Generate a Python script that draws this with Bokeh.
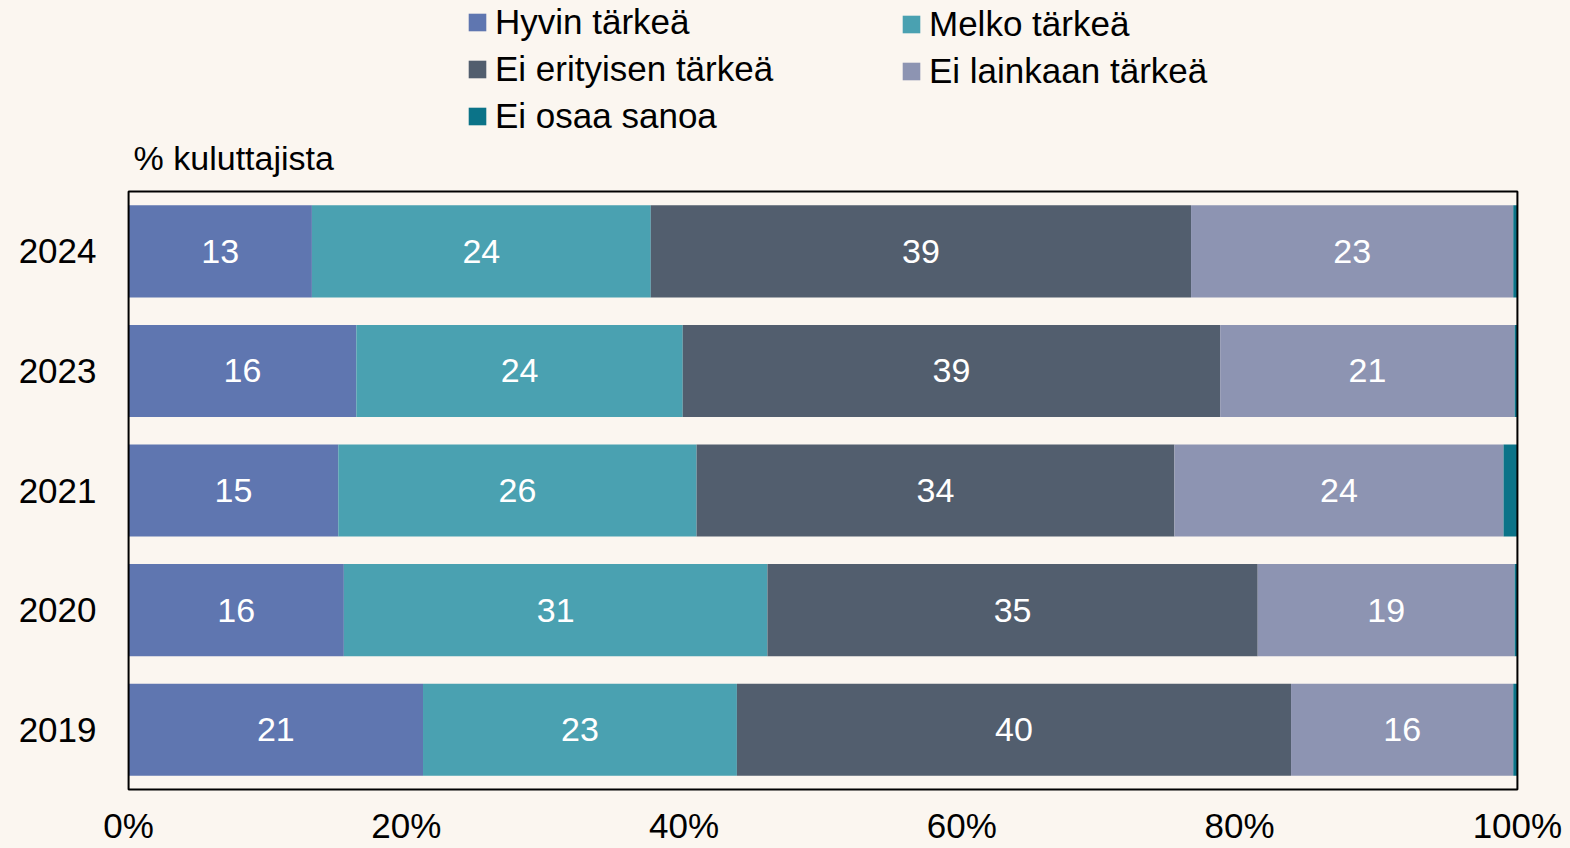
from bokeh.plotting import figure
from bokeh.models import (ColumnDataSource, Range1d, Legend, LegendItem, FixedTicker, Label)
from bokeh.core.properties import value
from bokeh.embed import file_html
from bokeh.resources import INLINE

years = ["2019", "2020", "2021", "2023", "2024"]
categories = ["Hyvin tärkeä", "Melko tärkeä", "Ei erityisen tärkeä",
              "Ei lainkaan tärkeä", "Ei osaa sanoa"]
hyvin = [21.2, 15.5, 15.1, 16.4, 13.2]
melko = [22.6, 30.5, 25.8, 23.5, 24.4]
ei_erityisen = [39.9, 35.3, 34.4, 38.7, 38.9]
ei_lainkaan = [16.0, 18.5, 23.7, 21.2, 23.2]
ei_osaa = [0.3, 0.2, 1.0, 0.2, 0.3]
tick_values = [0, 20, 40, 60, 80, 100]
tick_labels = ["0%", "20%", "40%", "60%", "80%", "100%"]
axis_title = "% kuluttajista"

colors = ["#5F76B0", "#4AA1B1", "#525E6E", "#8D94B2", "#0B7388"]
BG = "#FBF6F0"
FONT = "Liberation Sans"
FS = "34px"
FS_AX = "35px"

n = len(years)
ypos = [i + 0.5 for i in range(n)]          # row centres on the y scale
series = [hyvin, melko, ei_erityisen, ei_lainkaan, ei_osaa]
keys = ["s0", "s1", "s2", "s3", "s4"]
data = {"y": ypos}
for k, s in zip(keys, series):
    data[k] = s
source = ColumnDataSource(data)

# y range extends above the boxed area to leave room for legend and caption
p = figure(width=1570, height=848,
           x_range=Range1d(-0.15, 100.15), y_range=Range1d(-0.0167, n * 1.3195),
           output_backend="svg", toolbar_location=None,
           min_border_left=126, min_border_right=51, min_border_top=0,
           min_border_bottom=57)
p.background_fill_color = BG
p.border_fill_color = BG
p.outline_line_color = None
p.grid.visible = False

renderers = p.hbar_stack(keys, y="y", height=0.77, color=colors, source=source,
                         line_width=0)

# boxed plot area
p.quad(left=[tick_values[0]], right=[tick_values[-1]], bottom=[0], top=[n],
       fill_color=None, line_color="black", line_width=2)

# value labels inside the bars
lx, ly, lt = [], [], []
for i, y in enumerate(ypos):
    cum = 0.0
    for s in series:
        v = s[i]
        if v >= 5:
            lx.append(cum + v / 2)
            ly.append(y)
            lt.append(str(int(v + 0.5)))
        cum += v
lab_src = ColumnDataSource(dict(x=lx, y=ly, text=lt))
p.text(x="x", y="y", text="text", source=lab_src, text_color="white",
       text_font=value(FONT), text_font_size=FS, text_align="center",
       text_baseline="middle")

# axes
xax = p.xaxis[0]
xax.ticker = FixedTicker(ticks=tick_values)
xax.major_label_overrides = {v: t for v, t in zip(tick_values, tick_labels)}
xax.axis_line_color = None
xax.major_tick_line_color = None
xax.minor_tick_line_color = None
xax.major_tick_out = 0
xax.major_tick_in = 0
xax.major_label_standoff = 14
xax.major_label_text_font = FONT
xax.major_label_text_font_size = FS_AX
xax.major_label_text_color = "black"

yax = p.yaxis[0]
yax.ticker = FixedTicker(ticks=ypos)
yax.major_label_overrides = {y: t for y, t in zip(ypos, years)}
yax.axis_line_color = None
yax.major_tick_line_color = None
yax.minor_tick_line_color = None
yax.major_tick_out = 0
yax.major_tick_in = 0
yax.major_label_standoff = 30
yax.major_label_text_font = FONT
yax.major_label_text_font_size = FS_AX
yax.major_label_text_color = "black"

# caption above the box
p.add_layout(Label(x=tick_values[0], y=n, x_offset=5, y_offset=34, text=axis_title,
                   text_baseline="middle", text_align="left", text_font=FONT,
                   text_font_size=FS, text_color="black"))

def make_legend(idx, loc):
    items = [LegendItem(label=categories[j], renderers=[renderers[j]]) for j in idx]
    lg = Legend(items=items, location=loc, orientation="vertical",
                label_text_font=FONT, label_text_font_size=FS_AX, label_text_color="black",
                glyph_width=22, glyph_height=22, label_standoff=7, spacing=7,
                padding=0, margin=0, border_line_color=None, background_fill_alpha=0)
    p.add_layout(lg, "center")

make_legend([0, 2, 4], (340, 655))
make_legend([1, 3], (774, 700))

html = file_html(p, INLINE)
html = html.replace("</head>", "<style>html, body { background-color: %s; }</style></head>" % BG, 1)
open("out.html", "w").write(html)
